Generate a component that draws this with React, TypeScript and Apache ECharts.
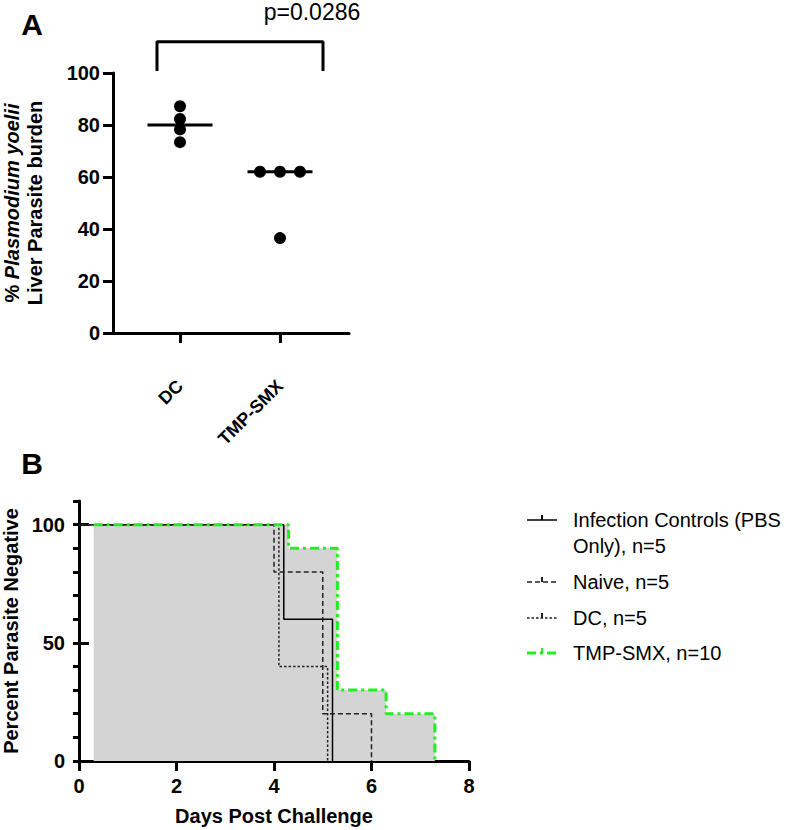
import { useEffect, useRef } from 'react';
import * as echarts from 'echarts';

const FONT = '"Liberation Sans", Arial, Helvetica, sans-serif';

// Panel A: % Plasmodium yoelii liver parasite burden
const groupsA = ['DC', 'TMP-SMX'];
const groupPosA = [1, 2];
const dcX = [1, 1, 1, 1];
const dcY = [87.2, 82.3, 78.3, 73.4];
const tmpX = [1.8, 2.0, 2.2, 2.0];
const tmpY = [62, 62, 62, 36.5];
const mediansA = [80, 62];
const pValue = 'p=0.0286';

// Panel B: percent parasite negative vs days post challenge
const naiveDays = [0, 4, 5, 6];
const naivePct = [100, 80, 20, 0];
const dcDays = [0.1, 4.1, 5.1];
const dcPct = [100, 40, 0];
const ctrlDays = [0.2, 4.2, 5.2];
const ctrlPct = [100, 60, 0];
const tmpDays = [0.3, 4.3, 5.3, 6.3, 7.3];
const tmpPct = [100, 90, 30, 20, 0];
const yLabelsB = [0, 50, 100];

const GREEN = '#22ee22';

const LEGEND = [
  { name: 'Infection Controls (PBS\nOnly), n=5', color: '#000', dash: 'solid' as any, width: 1.5 },
  { name: 'Naive, n=5', color: '#222', dash: [5, 3], width: 1.5 },
  { name: 'DC, n=5', color: '#222', dash: [2.5, 2], width: 1.5 },
  { name: 'TMP-SMX, n=10', color: GREEN, dash: [9, 4, 3, 4], width: 3 },
];
const legendRowY = [520, 582, 618, 653];

const zip = (xs: number[], ys: number[]) => xs.map((x, i) => [x, ys[i]]);

export default function App() {
  const ref = useRef<HTMLDivElement>(null);

  useEffect(() => {
    if (!ref.current) return;
    const chart = echarts.init(ref.current, null, { renderer: 'svg' });

    const boldLabel = { color: '#000', fontWeight: 'bold' as const, fontSize: 20, fontFamily: FONT };
    const blackLine = { lineStyle: { color: '#000', width: 3 } };

    const kmSeries = (name: string, days: number[], pct: number[], color: string, dash: any, width: number) => ({
      type: 'line', name, xAxisIndex: 1, yAxisIndex: 1, step: 'end', symbol: 'none',
      data: zip(days, pct), lineStyle: { color, type: dash, width }, z: 3,
    });

    const legendGraphics: any[] = [];
    LEGEND.forEach((l, i) => {
      const y = legendRowY[i];
      legendGraphics.push(
        { type: 'line', shape: { x1: 527, y1: y, x2: 557, y2: y }, style: { stroke: l.color, lineWidth: l.width, lineDash: l.dash === 'solid' ? null : l.dash } },
        { type: 'line', shape: { x1: 542, y1: y - 5, x2: 542, y2: y }, style: { stroke: l.color, lineWidth: 2 } },
        { type: 'text', x: 573, y: y - 13, style: { text: l.name, fill: '#000', font: `20px ${FONT}`, lineHeight: 26, textVerticalAlign: 'top' } },
      );
    });

    chart.setOption({
      animation: false,
      textStyle: { fontFamily: FONT },
      grid: [
        { left: 113, top: 73, width: 236, height: 260, outerBoundsMode: 'none' },
        { left: 79, top: 501, width: 390, height: 260, outerBoundsMode: 'none' },
      ],
      xAxis: [
        {
          gridIndex: 0, type: 'value', min: 0.33, max: 2.69,
          axisLine: { onZero: false, ...blackLine },
          axisTick: { customValues: groupPosA, length: 10, lineStyle: { color: '#000', width: 3 } },
          axisLabel: {
            customValues: groupPosA, rotate: 45, margin: 50, ...boldLabel, fontSize: 18,
            formatter: (v: number) => groupsA[groupPosA.indexOf(Math.round(v))] ?? '',
          },
          splitLine: { show: false },
        },
        {
          gridIndex: 1, type: 'value', min: 0, max: 8, interval: 2,
          axisLine: { onZero: false, ...blackLine },
          axisTick: { length: 10, lineStyle: { color: '#000', width: 3 } },
          axisLabel: { margin: 15, ...boldLabel },
          splitLine: { show: false },
          name: 'Days Post Challenge', nameLocation: 'middle', nameGap: 45,
          nameTextStyle: { ...boldLabel },
        },
      ],
      yAxis: [
        {
          gridIndex: 0, type: 'value', min: 0, max: 100, interval: 20,
          axisLine: { show: true, onZero: false, ...blackLine },
          axisTick: { show: true, length: 10, lineStyle: { color: '#000', width: 3 } },
          axisLabel: { margin: 13, ...boldLabel },
          splitLine: { show: false },
          name: '{n|% }{i|Plasmodium yoelii}\n{n|Liver Parasite burden}',
          nameLocation: 'middle', nameRotate: 90, nameGap: 67,
          nameTextStyle: {
            rich: {
              n: { fontWeight: 'bold', fontSize: 20, fontFamily: FONT, color: '#000', lineHeight: 23 },
              i: { fontWeight: 'bold', fontStyle: 'italic', fontSize: 20, fontFamily: FONT, color: '#000', lineHeight: 23 },
            },
          },
        },
        {
          gridIndex: 1, type: 'value', min: 0, max: 110, interval: 10,
          axisLine: { show: true, onZero: false, ...blackLine },
          axisTick: { show: true, length: 6, lineStyle: { color: '#000', width: 3 } },
          axisLabel: { customValues: yLabelsB, margin: 14, ...boldLabel },
          splitLine: { show: false },
          name: 'Percent Parasite Negative', nameLocation: 'middle', nameRotate: 90, nameGap: 58,
          nameTextStyle: { ...boldLabel },
        },
        {
          gridIndex: 1, type: 'value', min: 0, max: 110,
          axisLine: { show: false },
          axisTick: { show: true, customValues: yLabelsB, length: 10, lineStyle: { color: '#000', width: 3 } },
          axisLabel: { show: false },
          splitLine: { show: false },
        },
      ],
      series: [
        {
          type: 'scatter', xAxisIndex: 0, yAxisIndex: 0, symbolSize: 12,
          itemStyle: { color: '#000', opacity: 1 }, data: zip(dcX, dcY),
        },
        {
          type: 'scatter', xAxisIndex: 0, yAxisIndex: 0, symbolSize: 12,
          itemStyle: { color: '#000', opacity: 1 }, data: zip(tmpX, tmpY),
        },
        ...mediansA.map((m, i) => ({
          type: 'line', xAxisIndex: 0, yAxisIndex: 0, symbol: 'none', ...blackLine,
          data: [[groupPosA[i] - 0.325, m], [groupPosA[i] + 0.325, m]],
        })),
        {
          // significance bracket
          type: 'line', xAxisIndex: 0, yAxisIndex: 0, symbol: 'none', clip: false, ...blackLine,
          data: [[0.77, 100.8], [0.77, 112], [2.43, 112], [2.43, 100.8]],
        },
        {
          // shaded area under TMP-SMX curve
          type: 'line', xAxisIndex: 1, yAxisIndex: 1, step: 'end', symbol: 'none',
          data: zip(tmpDays, tmpPct), lineStyle: { width: 0, opacity: 0 },
          areaStyle: { color: '#d4d4d4', opacity: 1 }, z: 1,
        },
        kmSeries('Infection Controls', ctrlDays, ctrlPct, '#000', 'solid', 1.5),
        kmSeries('Naive', naiveDays, naivePct, '#222', [5, 3], 1.5),
        kmSeries('DC', dcDays, dcPct, '#222', [2.5, 2], 1.5),
        kmSeries('TMP-SMX', tmpDays, tmpPct, GREEN, [9, 4, 3, 4], 3),
      ],
      graphic: [
        { type: 'text', x: 32, y: 24, style: { text: 'A', font: `bold 30px ${FONT}`, fill: '#000', textAlign: 'center', textVerticalAlign: 'middle' } },
        { type: 'text', x: 32, y: 463, style: { text: 'B', font: `bold 30px ${FONT}`, fill: '#000', textAlign: 'center', textVerticalAlign: 'middle' } },
        { type: 'text', x: 312, y: 12, style: { text: pValue, font: `23px ${FONT}`, fill: '#000', textAlign: 'center', textVerticalAlign: 'middle' } },
        ...legendGraphics,
      ],
    });

    return () => chart.dispose();
  }, []);

  return <div ref={ref} style={{ position: 'absolute', left: 0, top: 0, width: 786, height: 830, background: '#fff' }} />;
}
